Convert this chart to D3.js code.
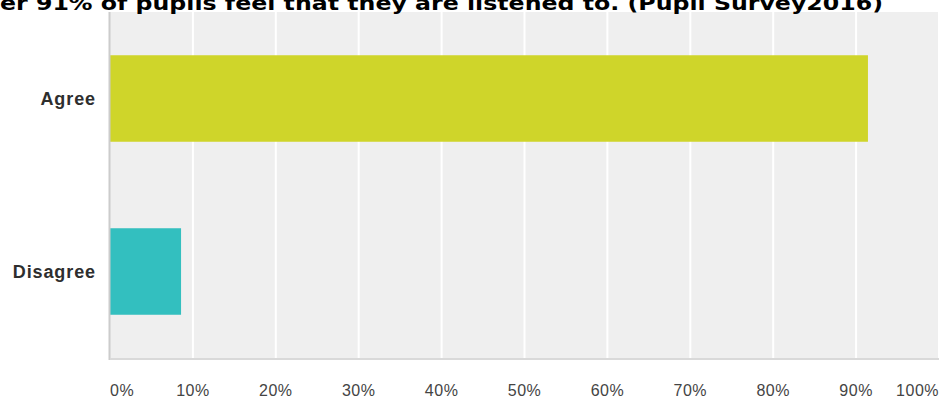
<!DOCTYPE html>
<html>
<head>
<meta charset="utf-8">
<script src="https://cdn.jsdelivr.net/npm/d3@7"></script>
<style>
  html, body { margin: 0; padding: 0; background: #fff; overflow: hidden; }
</style>
</head>
<body>
<div id="chart"></div>
<script>
const titleText = 'er 91% of pupils feel that they are listened to. (Pupil Survey2016)';
const categories = ['Agree', 'Disagree'];
const values = [91.43, 8.57];
const colors = ['#cfd52a', '#33bfbf'];
const ticks = [0, 10, 20, 30, 40, 50, 60, 70, 80, 90, 100];

const width = 939;
const height = 399;
const margin = { top: 12, right: 0, bottom: 41, left: 110 };

const svg = d3.select('#chart')
	.append('svg')
	.attr('width', width)
	.attr('height', height);

const x = d3.scaleLinear()
	.domain([0, 100])
	.range([margin.left, width - margin.right]);

const y = d3.scaleBand()
	.domain(categories)
	.range([margin.top, height - margin.bottom])
	.paddingInner(0.5)
	.paddingOuter(0.25);

// plot background
svg.append('rect')
	.attr('x', margin.left)
	.attr('y', margin.top)
	.attr('width', width - margin.left - margin.right)
	.attr('height', height - margin.top - margin.bottom)
	.attr('fill', '#efefef');

// vertical gridlines
svg.append('g')
	.selectAll('line')
	.data(ticks.slice(1))
	.enter()
	.append('line')
	.attr('x1', d => x(d))
	.attr('x2', d => x(d))
	.attr('y1', margin.top)
	.attr('y2', height - margin.bottom)
	.attr('stroke', '#ffffff')
	.attr('stroke-width', 2);

// bars
svg.append('g')
	.selectAll('rect')
	.data(values)
	.enter()
	.append('rect')
	.attr('x', x(0))
	.attr('y', (d, i) => y(categories[i]))
	.attr('width', d => x(d) - x(0))
	.attr('height', y.bandwidth())
	.attr('fill', (d, i) => colors[i]);

// axis lines
svg.append('line')
	.attr('x1', margin.left - 0.5)
	.attr('x2', margin.left - 0.5)
	.attr('y1', margin.top)
	.attr('y2', height - margin.bottom + 2)
	.attr('stroke', '#cccccc')
	.attr('stroke-width', 2);

svg.append('line')
	.attr('x1', margin.left)
	.attr('x2', width)
	.attr('y1', height - margin.bottom + 1)
	.attr('y2', height - margin.bottom + 1)
	.attr('stroke', '#d9d9d9')
	.attr('stroke-width', 2);

// category labels
svg.append('g')
	.selectAll('text')
	.data(categories)
	.enter()
	.append('text')
	.attr('x', 96)
	.attr('y', d => y(d) + y.bandwidth() / 2)
	.attr('dy', '0.35em')
	.attr('text-anchor', 'end')
	.style('font-family', 'Arial, "Liberation Sans", sans-serif')
	.style('font-weight', 'bold')
	.style('font-size', '18px')
	.style('letter-spacing', '0.9px')
	.style('fill', '#2e2e2e')
	.text(d => d);

// x tick labels
svg.append('g')
	.selectAll('text')
	.data(ticks)
	.enter()
	.append('text')
	.attr('x', d => d === 0 ? x(d) : d === 100 ? width : x(d))
	.attr('y', 396)
	.attr('text-anchor', d => d === 0 ? 'start' : d === 100 ? 'end' : 'middle')
	.style('font-family', 'Arial, "Liberation Sans", sans-serif')
	.style('font-size', '16px')
	.style('letter-spacing', '0.5px')
	.style('fill', '#444444')
	.text(d => d + '%');

// title (cut off at the top, as in the source image)
svg.append('text')
	.attr('x', 0)
	.attr('y', 10)
	.attr('textLength', 883)
	.attr('lengthAdjust', 'spacingAndGlyphs')
	.style('font-family', '"Comic Sans MS", "DejaVu Sans", sans-serif')
	.style('font-weight', 'bold')
	.style('font-size', '20px')
	.style('fill', '#000000')
	.text(titleText);
</script>
</body>
</html>
